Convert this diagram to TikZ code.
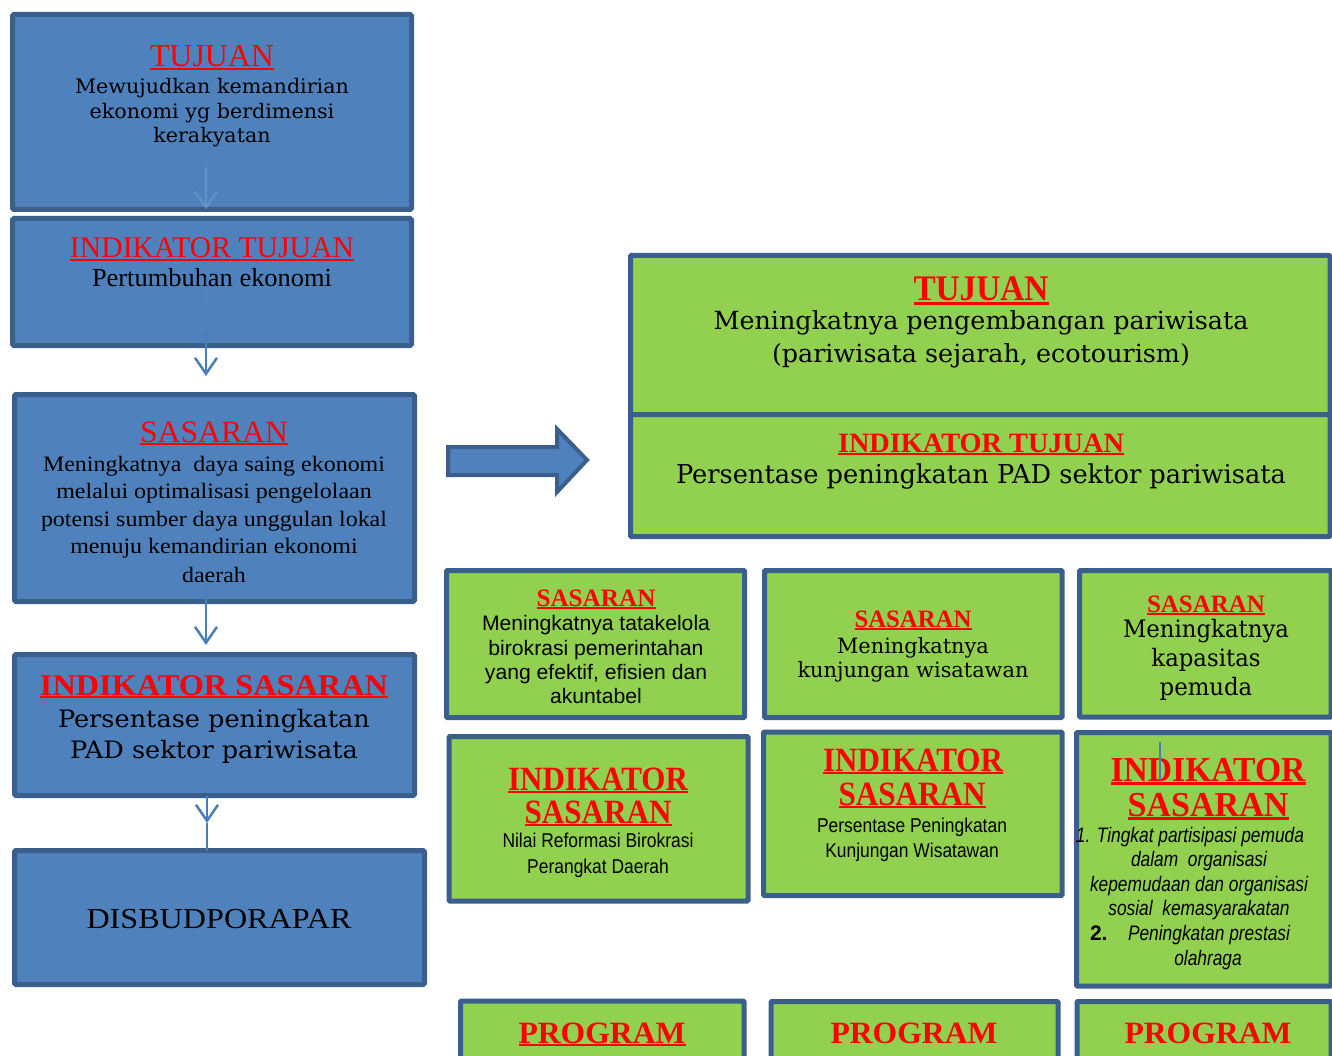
\documentclass[tikz,border=0pt]{standalone}
\usepackage{fontspec}
\usepackage{graphicx}
\usetikzlibrary{arrows.meta}
\setmainfont{Liberation Serif}
\newfontfamily\bkm{DejaVu Serif}
\newfontfamily\ars{Liberation Sans}
\newfontfamily\arn[FakeStretch=0.86]{Liberation Sans}
\definecolor{bfill}{HTML}{4F81BD}
\definecolor{bdr}{HTML}{3A5F8C}
\definecolor{gfill}{HTML}{92D050}
\definecolor{arrc}{HTML}{4A7EBB}
\definecolor{hred}{HTML}{FF0000}
\newcommand\fs[1]{\fontsize{#1}{#1}\selectfont}
\newlength\tmpl
\newcommand\mkfac[3]{\settowidth\tmpl{#3}\pgfmathsetmacro#1{#2/\tmpl}}
\newcommand\rul[1]{\setbox0=\hbox{#1}\rlap{\rule[-0.1em]{\wd0}{0.07em}}\box0}
\newcommand\hd[3]{\resizebox{#2pt}{\height}{\color{hred}\fs{#1}\rul{#3}}}
\newcommand\hdnu[3]{\resizebox{#2pt}{\height}{\color{hred}\fs{#1}#3}}
\newcommand\putline[4]{\node[anchor=base,inner sep=0pt,outer sep=0pt] (#1) at (#2,#3) {#4};}
\newcommand\putwest[4]{\node[anchor=base west,inner sep=0pt,outer sep=0pt] (#1) at (#2,#3) {#4};}
\newcommand\boxn[6]{\node[#1,anchor=north west,inner sep=0pt,outer sep=0pt,minimum width={#5pt-#3pt},minimum height={#6pt-#4pt}] (#2) at (#3,#4) {};}
\tikzset{
  bluebox/.style={draw=bdr,line width=5pt,fill=bfill,rounded corners=1.5pt},
  greenbox/.style={draw=bdr,line width=5pt,fill=gfill,rounded corners=1pt},
  conn/.style={draw=arrc,line width=2.5pt},
  faint/.style={draw=arrc!70!white,line width=2.2pt,opacity=0.45},
  fainter/.style={draw=arrc!80!white,line width=1.8pt,opacity=0.25},
  vtip/.style={-{Straight Barb[length=16pt,width=22pt]}},
  blockarrow/.style={draw=bdr,line width=4pt,fill=bfill,line join=miter}
}
\begin{document}
\mkfac\facLa{274}{\bkm\fs{20}Mewujudkan kemandirian}%
\mkfac\facLb{240}{\fs{26}Pertumbuhan ekonomi}%
\mkfac\facLc{346}{\fs{22}potensi sumber daya unggulan lokal}%
\mkfac\facLd{312}{\bkm\fs{24}Persentase peningkatan}%
\mkfac\facRa{535}{\bkm\fs{25}Meningkatnya pengembangan pariwisata}%
\mkfac\facRb{610}{\bkm\fs{26}Persentase peningkatan PAD sektor pariwisata}%
\mkfac\facA{228}{\ars\fs{21}Meningkatnya tatakelola}%
\mkfac\facB{231}{\bkm\fs{21}kunjungan wisatawan}%
\mkfac\facC{166}{\bkm\fs{24}Meningkatnya}%
\mkfac\facD{191}{\arn\fs{20}Nilai Reformasi Birokrasi}%
\mkfac\facE{190}{\arn\fs{20}Persentase Peningkatan}%
\mkfac\facF{218}{\arn\itshape\fs{21}kepemudaan dan organisasi}%
\begin{tikzpicture}[x=1pt,y=-1pt]
\useasboundingbox (0,0) rectangle (1332,1056);
\clip (0,0) rectangle (1332,1056);
% ---------- left column ----------
\boxn{bluebox}{b1}{12.5}{14.5}{411.5}{209.5}
\boxn{bluebox}{b2}{12.5}{218.5}{411.5}{345.5}
\boxn{bluebox}{b3}{14.5}{394.5}{414.5}{601.5}
\boxn{bluebox}{b4}{14.5}{654.5}{414.5}{795.5}
\boxn{bluebox}{b5}{14.5}{850.5}{424.5}{984.5}
\putline{b1h}{212}{67}{\hd{32}{124}{TUJUAN}}
\putline{b1l1}{212}{94}{\scalebox{\facLa}[1]{\bkm\fs{20}Mewujudkan kemandirian}}
\putline{b1l2}{212}{119}{\scalebox{\facLa}[1]{\bkm\fs{20}ekonomi yg berdimensi}}
\putline{b1l3}{212}{143}{\scalebox{\facLa}[1]{\bkm\fs{20}kerakyatan}}
\putline{b2h}{212}{258}{\hd{30}{284}{INDIKATOR TUJUAN}}
\putline{b2l1}{212}{287}{\scalebox{\facLb}[1]{\fs{26}Pertumbuhan ekonomi}}
\putline{b3h}{214}{442}{\hd{31}{148}{SASARAN}}
\putline{b3l1}{214}{471}{\scalebox{\facLc}[1]{\fs{22}Meningkatnya\ \ daya saing ekonomi}}
\putline{b3l2}{214}{498}{\scalebox{\facLc}[1]{\fs{22}melalui optimalisasi pengelolaan}}
\putline{b3l3}{214}{526}{\scalebox{\facLc}[1]{\fs{22}potensi sumber daya unggulan lokal}}
\putline{b3l4}{214}{553}{\scalebox{\facLc}[1]{\fs{22}menuju kemandirian ekonomi}}
\putline{b3l5}{214}{582}{\scalebox{\facLc}[1]{\fs{22}daerah}}
\putline{b4h}{214}{695}{\hd{30}{348}{\bfseries INDIKATOR SASARAN}}
\putline{b4l1}{214}{727}{\scalebox{\facLd}[1]{\bkm\fs{24}Persentase peningkatan}}
\putline{b4l2}{214}{758}{\scalebox{\facLd}[1]{\bkm\fs{24}PAD sektor pariwisata}}
\putline{b5t}{219}{928}{\resizebox{265pt}{\height}{\fs{29}DISBUDPORAPAR}}
% connectors of left column
\coordinate (ax) at (206,0);
\coordinate (ax4) at (207,0);
\coordinate (s1) at (206,167);
\coordinate (f2a) at (206,277);
\coordinate (f2b) at (206,305);
\coordinate (s2) at (206,332);
\coordinate (e2) at (206,376);
\coordinate (s3) at (206,584);
\coordinate (e3) at (206,645);
\coordinate (m4) at (207,823);
\draw[faint,vtip] (s1) -- (b1.south -| ax);
\draw[fainter] (f2a) -- (f2b);
\draw[conn,vtip] (s2) -- (e2);
\draw[conn,vtip] (s3) -- (e3);
\draw[conn,vtip] (b4.south -| ax4) -- (m4);
\draw[conn] (m4) -- (b5.north -| ax4);
% block arrow
\draw[blockarrow] (448,447) -- (557,447) -- (557,429) -- (587,460) -- (557,492) -- (557,475) -- (448,475) -- cycle;
% ---------- right top ----------
\boxn{greenbox}{r1}{630.5}{255.5}{1330}{414.5}
\boxn{greenbox}{r2}{630.5}{414.5}{1330}{536.5}
\putline{r1h}{981}{301}{\hd{36}{135}{\bfseries TUJUAN}}
\putline{r1l1}{981}{330}{\scalebox{\facRa}[1]{\bkm\fs{25}Meningkatnya pengembangan pariwisata}}
\putline{r1l2}{981}{362}{\scalebox{\facRa}[1]{\bkm\fs{25}(pariwisata sejarah, ecotourism)}}
\putline{r2h}{981}{452}{\hd{28}{286}{\bfseries INDIKATOR TUJUAN}}
\putline{r2l1}{981}{483}{\scalebox{\facRb}[1]{\bkm\fs{26}Persentase peningkatan PAD sektor pariwisata}}
% ---------- row 1 ----------
\boxn{greenbox}{ga}{446.5}{570.5}{744.5}{717.5}
\boxn{greenbox}{gb}{764.5}{570.5}{1062}{717.5}
\boxn{greenbox}{gc}{1079.5}{570.5}{1331}{717}
\putline{gah}{596}{606}{\hd{25}{119}{\bfseries SASARAN}}
\putline{gal1}{596}{630}{\scalebox{\facA}[1]{\ars\fs{21}Meningkatnya tatakelola}}
\putline{gal2}{596}{655}{\scalebox{\facA}[1]{\ars\fs{21}birokrasi pemerintahan}}
\putline{gal3}{596}{679}{\scalebox{\facA}[1]{\ars\fs{21}yang efektif, efisien dan}}
\putline{gal4}{596}{703}{\scalebox{\facA}[1]{\ars\fs{21}akuntabel}}
\putline{gbh}{913}{627}{\hd{25}{117}{\bfseries SASARAN}}
\putline{gbl1}{913}{653}{\scalebox{\facB}[1]{\bkm\fs{21}Meningkatnya}}
\putline{gbl2}{913}{677}{\scalebox{\facB}[1]{\bkm\fs{21}kunjungan wisatawan}}
\putline{gch}{1206}{612}{\hd{25}{118}{\bfseries SASARAN}}
\putline{gcl1}{1206}{637}{\scalebox{\facC}[1]{\bkm\fs{24}Meningkatnya}}
\putline{gcl2}{1206}{666}{\scalebox{\facC}[1]{\bkm\fs{24}kapasitas}}
\putline{gcl3}{1206}{695}{\scalebox{\facC}[1]{\bkm\fs{24}pemuda}}
% ---------- row 2 ----------
\boxn{greenbox}{gd}{449}{736.5}{748}{901}
\boxn{greenbox}{ge}{763.5}{732}{1062}{895.5}
\boxn{greenbox}{gf}{1076.5}{732.5}{1331}{986}
\putline{gdh1}{598}{790}{\hd{34}{180}{\bfseries INDIKATOR}}
\putline{gdh2}{598}{823}{\hd{34}{147}{\bfseries SASARAN}}
\putline{gdl1}{598}{847}{\scalebox{\facD}[1]{\arn\fs{20}Nilai Reformasi Birokrasi}}
\putline{gdl2}{598}{873}{\scalebox{\facD}[1]{\arn\fs{20}Perangkat Daerah}}
\putline{geh1}{913}{771}{\hd{34}{180}{\bfseries INDIKATOR}}
\putline{geh2}{912}{805}{\hd{34}{147}{\bfseries SASARAN}}
\putline{gel1}{912}{832}{\scalebox{\facE}[1]{\arn\fs{20}Persentase Peningkatan}}
\putline{gel2}{912}{857}{\scalebox{\facE}[1]{\arn\fs{20}Kunjungan Wisatawan}}
\putline{gfh1}{1208}{781}{\hd{35}{195}{\bfseries INDIKATOR}}
\putline{gfh2}{1208}{816}{\hd{35}{161}{\bfseries SASARAN}}
\putline{gfl1}{1190}{842}{\scalebox{\facF}[1]{\arn\itshape\fs{21}1. Tingkat partisipasi pemuda}}
\putline{gfl2}{1199}{866}{\scalebox{\facF}[1]{\arn\itshape\fs{21}dalam\ \ organisasi}}
\putline{gfl3}{1199}{891}{\scalebox{\facF}[1]{\arn\itshape\fs{21}kepemudaan dan organisasi}}
\putline{gfl4}{1199}{915}{\scalebox{\facF}[1]{\arn\itshape\fs{21}sosial\ \ kemasyarakatan}}
\putwest{gfl5a}{1090}{940}{\ars\bfseries\fs{21}2.}
\putwest{gfl5b}{1128}{940}{\scalebox{\facF}[1]{\arn\itshape\fs{21}Peningkatan prestasi}}
\putline{gfl6}{1208}{965}{\scalebox{\facF}[1]{\arn\itshape\fs{21}olahraga}}
\coordinate (cur1) at (1160,742);
\coordinate (cur2) at (1160,780);
\draw[draw=arrc,line width=1.5pt] (cur1) -- (cur2);
% ---------- row 3 ----------
\boxn{greenbox}{gg}{460.5}{1001}{744}{1090}
\boxn{greenbox}{gh}{771}{1001.5}{1058}{1090}
\boxn{greenbox}{gi}{1077}{1001.5}{1331}{1090}
\putline{ggt}{602}{1043}{\hd{31}{167}{\bfseries PROGRAM}}
\putline{ght}{914}{1043}{\hdnu{31}{167}{\bfseries PROGRAM}}
\putline{git}{1208}{1043}{\hdnu{31}{167}{\bfseries PROGRAM}}
\end{tikzpicture}
\end{document}
